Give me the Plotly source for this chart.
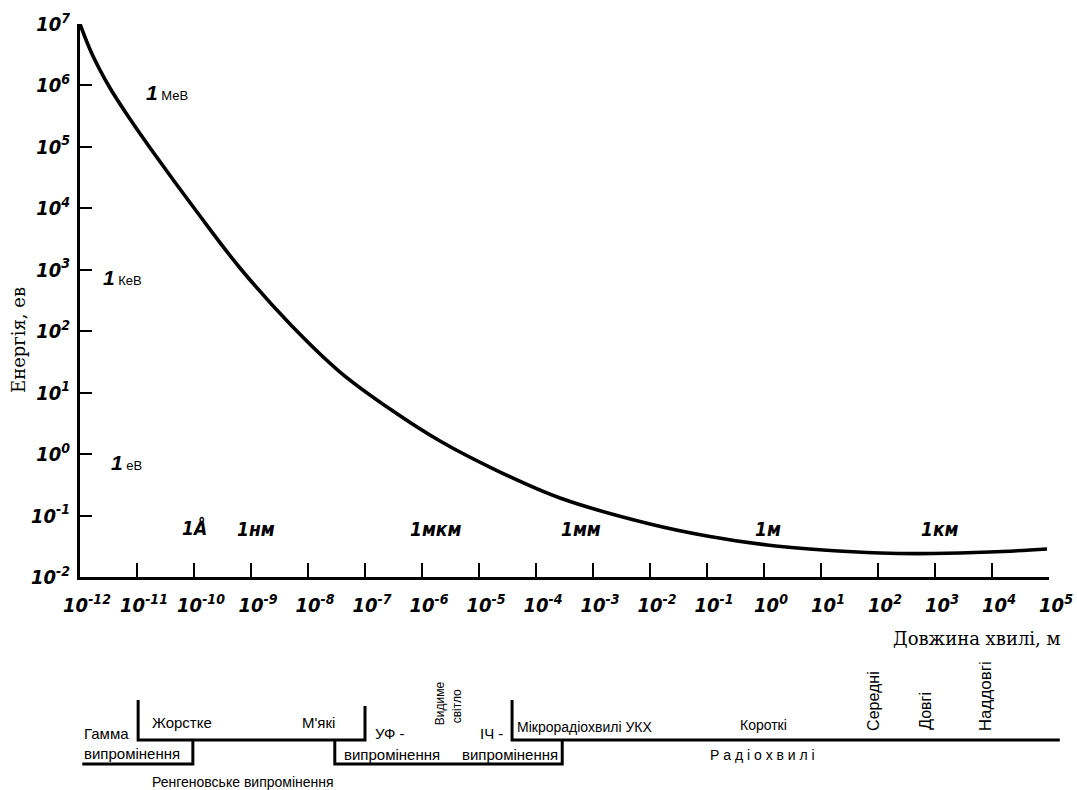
import plotly.graph_objects as go

W, H = 1077, 790

# ---- curve readings (log10 of wavelength in m, log10 of energy in eV) ----
lam_exp = [-12.0, -11.789, -11.474, -11.123, -10.719, -9.947, -9.193, -8.316,
           -7.439, -6.561, -5.684, -4.632, -3.579, -2.0, -1.0, 0.053, 1.035,
           2.035, 2.965, 3.965, 4.965]
energy_exp = [7.0, 6.512, 5.958, 5.454, 4.917, 3.940, 3.029, 2.117,
              1.336, 0.734, 0.213, -0.292, -0.715, -1.138, -1.333, -1.480, -1.561,
              -1.610, -1.618, -1.594, -1.545]

# ---- axis ticks ----
x_tick_exp = list(range(-12, 6))
x_tick_text = ["10<sup>%d</sup>" % e for e in x_tick_exp]
y_tick_exp = list(range(-2, 8))
y_tick_text = ["10<sup>%d</sup>" % e for e in y_tick_exp]

# ---- in-plot labels ----
energy_unit_text = ["МеВ", "КеВ", "еВ"]
energy_unit_lam = [-10.47, -11.26, -11.19]
energy_unit_en = [5.89, 2.88, -0.13]

length_unit_text = ["1Å", "1нм", "1мкм", "1мм", "1м", "1км"]
length_unit_lam = [-10.0, -8.91, -5.77, -3.21, 0.07, 3.09]
length_unit_en = [-1.19, -1.22, -1.22, -1.22, -1.22, -1.22]

# ---- spectrum diagram: band boundaries (log10 wavelength, m) ----
gamma_start, gamma_end = -11.96, -10.02
xray_start, xray_end = -10.98, -7.0
uv_start, ir_end = -7.53, -3.54
radio_start, radio_end = -4.42, 5.19

fig = go.Figure()

fig.add_trace(go.Scatter(
    x=[10 ** v for v in lam_exp], y=[10 ** v for v in energy_exp],
    mode="lines", line=dict(color="black", width=3.6, shape="spline", smoothing=1.0),
    xaxis="x", yaxis="y", hoverinfo="skip"))

# diagram brackets (row 0 = upper level, row 1 = lower level)
brackets = [
    ([gamma_start, gamma_end, gamma_end], [1, 1, 0]),
    ([xray_start, xray_start, xray_end, xray_end], [-1.67, 0, 0, -1.42]),
    ([uv_start, uv_start, ir_end, ir_end], [0, 1, 1, 0]),
    ([radio_start, radio_start, radio_end], [-1.67, 0, 0]),
]
for bx, by in brackets:
    fig.add_trace(go.Scatter(x=bx, y=by, mode="lines",
                             line=dict(color="black", width=3),
                             xaxis="x2", yaxis="y2", hoverinfo="skip"))

tick_font = dict(family="Liberation Sans Narrow, DejaVu Sans Condensed, Liberation Sans, Arial",
                 size=20, color="black", weight="bold", style="italic")

fig.update_layout(
    width=W, height=H,
    margin=dict(l=0, r=0, t=0, b=0),
    paper_bgcolor="white", plot_bgcolor="white",
    showlegend=False,
    font=dict(family="Liberation Sans, Arial", color="black"),
    xaxis=dict(type="log", domain=[80 / W, 1049 / W], range=[-12, 5],
               tickvals=[10 ** e for e in x_tick_exp], ticktext=x_tick_text,
               ticks="inside", ticklen=14, tickwidth=2, tickcolor="black",
               showline=True, linewidth=3, linecolor="black",
               showgrid=False, zeroline=False, automargin=False,
               tickfont=tick_font, ticklabelshift=7, ticklabelstandoff=8, anchor="y"),
    yaxis=dict(type="log", domain=[1 - 577 / H, 1 - 24 / H], range=[-2, 7],
               tickvals=[10 ** e for e in y_tick_exp], ticktext=y_tick_text,
               ticks="inside", ticklen=12, tickwidth=2, tickcolor="black",
               showline=True, linewidth=3, linecolor="black",
               showgrid=False, zeroline=False, automargin=False,
               tickfont=tick_font, ticklabelstandoff=3, anchor="x"),
    xaxis2=dict(domain=[0, 1], range=[-12 - 80 / 57, -12 + 997 / 57],
                visible=False, anchor="y2", automargin=False),
    yaxis2=dict(domain=[0, 160 / H], range=[50 / 24, -110 / 24],
                visible=False, anchor="x2", automargin=False),
)

ann = []
# axis titles
ann.append(dict(text="Енергія, ев", xref="paper", yref="paper", x=18 / W, y=1 - 340 / H,
                textangle=-90, showarrow=False, xanchor="center", yanchor="middle",
                font=dict(family="DejaVu Serif", size=18, color="black")))
ann.append(dict(text="Довжина хвилі, м", xref="paper", yref="paper", x=1063 / W, y=1 - 638 / H,
                showarrow=False, xanchor="right", yanchor="middle",
                font=dict(family="DejaVu Serif", size=18, color="black")))

for t, lx, ly in zip(energy_unit_text, energy_unit_lam, energy_unit_en):
    ann.append(dict(text="<b><i><span style='font-size:21px'>1</span></i></b> " + t,
                    xref="x", yref="y", x=lx, y=ly, showarrow=False,
                    xanchor="center", yanchor="middle",
                    font=dict(family="Liberation Sans, Arial", size=13, color="black")))

for t, lx, ly in zip(length_unit_text, length_unit_lam, length_unit_en):
    ann.append(dict(text=t, xref="x", yref="y", x=lx, y=ly, showarrow=False,
                    xanchor="center", yanchor="middle",
                    font=dict(family="Liberation Sans Narrow, DejaVu Sans Condensed, Liberation Sans, Arial",
                              size=19, color="black", weight="bold", style="italic")))

# diagram texts: (text, log-wavelength, row, angle, size, xanchor, yanchor)
diagram_text = [
    ("Гамма", -11.96, -0.29, 0, 15, "left", "middle"),
    ("випромінення", -11.96, 0.58, 0, 15, "left", "middle"),
    ("Жорстке", -10.77, -0.71, 0, 15, "left", "middle"),
    ("М'які", -8.14, -0.75, 0, 15, "left", "middle"),
    ("УФ -", -6.86, -0.29, 0, 15, "left", "middle"),
    ("випромінення", -7.40, 0.62, 0, 15, "left", "middle"),
    ("Видиме", -5.68, -0.54, -90, 12, "center", "bottom"),
    ("світло", -5.39, -0.6, -90, 12, "center", "bottom"),
    ("ІЧ -", -5.02, -0.29, 0, 15, "left", "middle"),
    ("випромінення", -5.33, 0.62, 0, 15, "left", "middle"),
    ("Ренгеновське випромінення", -10.77, 1.75, 0, 14, "left", "middle"),
    ("Мікрорадіохвилі УКХ", -4.37, -0.54, 0, 14, "left", "middle"),
    ("Короткі", -0.46, -0.62, 0, 14, "left", "middle"),
    ("Середні", 1.91, -0.29, -90, 16, "center", "bottom"),
    ("Довгі", 2.82, -0.33, -90, 16, "center", "bottom"),
    ("Наддовгі", 3.88, -0.29, -90, 17, "center", "bottom"),
    ("Р а д і о х в и л і", -0.98, 0.62, 0, 14, "left", "middle"),
]
for t, lx, row, ang, sz, xa, ya in diagram_text:
    ann.append(dict(text=t, xref="x2", yref="y2", x=lx, y=row, showarrow=False,
                    textangle=ang, xanchor=xa, yanchor=ya,
                    font=dict(family="Liberation Sans, Arial", size=sz, color="black")))

fig.update_layout(annotations=ann)
fig.write_html("out.html", config={"displayModeBar": False},
               post_script="document.body.style.margin='0px';")
